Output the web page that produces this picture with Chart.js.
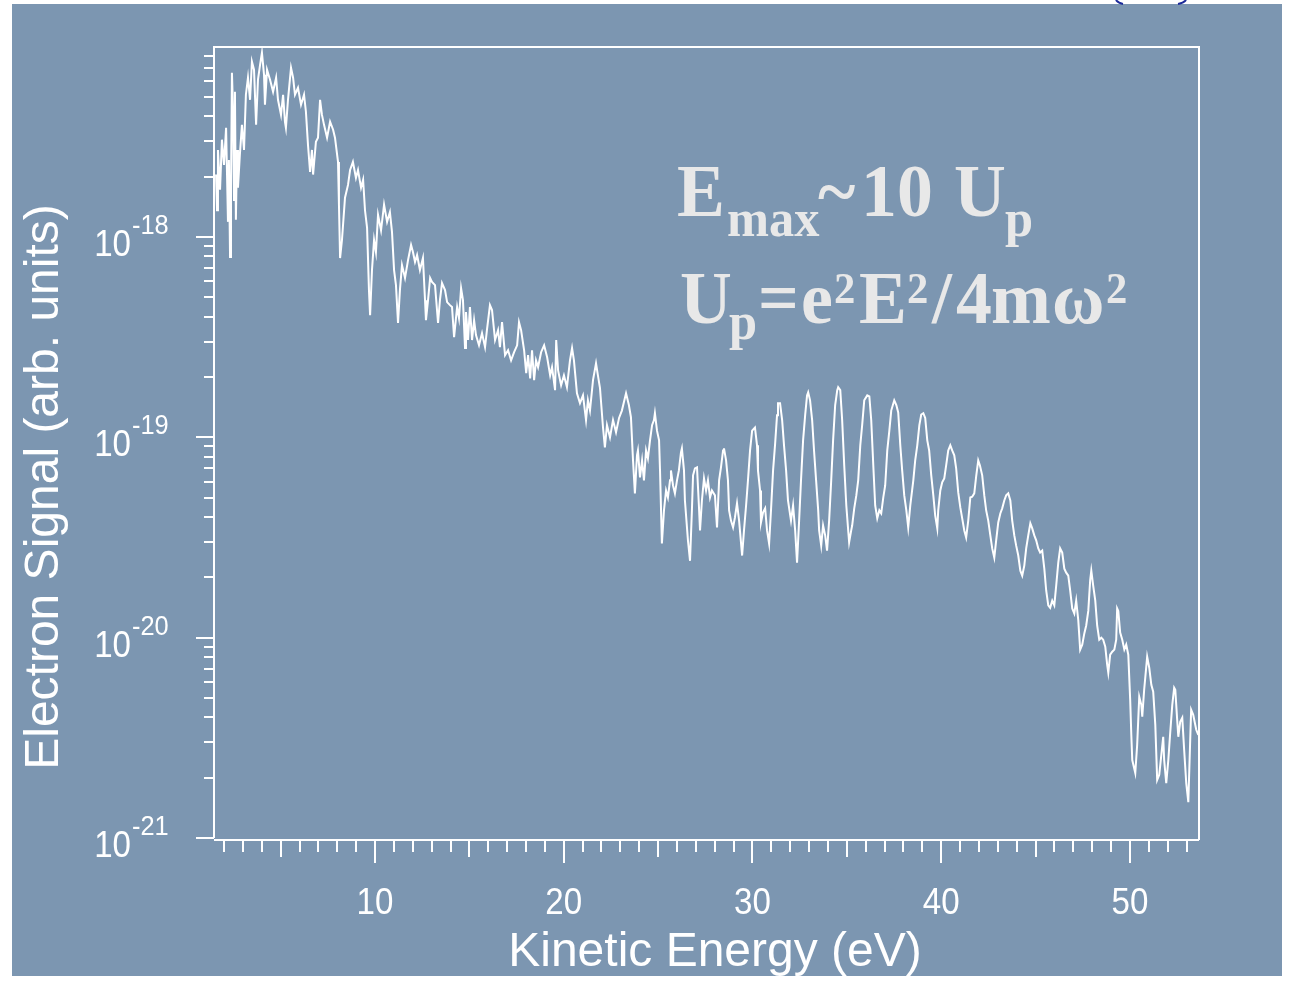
<!DOCTYPE html>
<html>
<head>
<meta charset="utf-8">
<script src="https://cdn.jsdelivr.net/npm/chart.js@4.4.1/dist/chart.umd.min.js"></script>
<style>
  html, body { margin: 0; padding: 0; background: #ffffff; }
  #wrap { width: 1289px; height: 981px; }
</style>
</head>
<body>
<div id="wrap"><canvas id="spectrum" width="1289" height="981"></canvas></div>
<script>
// kinetic energy (eV) and electron signal (arb. units)
const energyLow = [1.58,1.63,1.68,1.79,1.89,2.00,2.11,2.16,2.21,2.26,
  2.32,2.37,2.42,2.48,2.53,2.58,2.63,2.69,2.74,2.84,
  2.95,3.06,3.16,3.27,3.38,3.48,3.59,3.70,3.80,3.91,
  4.01,4.12,4.17,4.28,4.44,4.60,4.76,4.86,5.02,5.13,
  5.23,5.28,5.39,5.55,5.66,5.76,5.92,6.08,6.24,6.34,
  6.45,6.56,6.66,6.72,6.87,6.98,7.09,7.19,7.30,7.46,
  7.62,7.78,7.88,8.04,8.09,8.15,8.25,8.41,8.57,8.68,
  8.83,8.99,9.10,9.26,9.37,9.47,9.58,9.68,9.74,9.84,
  9.95,10.05,10.16,10.32,10.48,10.64,10.79,10.90,11.01,11.11,
  11.22,11.32,11.43,11.59,11.75,11.91,12.01,12.12,12.23,12.38,
  12.54,12.65,12.70,12.81,12.92];
const signalLow = [2.05e-18,1.36e-18,2.72e-18,1.72e-18,3.06e-18,2.29e-18,3.51e-18,2.05e-18,1.19e-18,2.42e-18,
  7.94e-19,1.72e-18,6.6e-18,4.3e-18,1.53e-18,5.31e-18,1.22e-18,2.72e-18,1.76e-18,2.57e-18,
  3.63e-18,2.72e-18,5.13e-18,6.24e-18,4.84e-18,7.5e-18,6.84e-18,3.63e-18,6.1e-18,7.24e-18,
  8.32e-18,6.46e-18,4.57e-18,6.84e-18,6.1e-18,5.31e-18,6.24e-18,4.84e-18,4.07e-18,5.13e-18,
  3.76e-18,3.51e-18,4.84e-18,7.0e-18,6.24e-18,5.13e-18,5.56e-18,4.57e-18,5.13e-18,4.22e-18,
  2.88e-18,2.11e-18,2.72e-18,2.05e-18,2.99e-18,3.13e-18,4.84e-18,4.07e-18,3.63e-18,3.13e-18,
  3.76e-18,3.43e-18,3.13e-18,2.37e-18,1.45e-18,7.85e-19,9.66e-19,1.57e-18,1.82e-18,2.16e-18,
  2.37e-18,1.97e-18,2.16e-18,1.76e-18,1.93e-18,1.36e-18,1.11e-18,5.43e-19,4.07e-19,6.84e-19,
  9.66e-19,8.41e-19,1.29e-18,1.08e-18,1.45e-18,1.19e-18,1.33e-18,1.06e-18,6.84e-19,5.75e-19,
  3.72e-19,5.43e-19,7.24e-19,6.24e-19,7.67e-19,9.12e-19,8.41e-19,7.5e-19,8.13e-19,6.84e-19,
  7.85e-19,4.84e-19,3.84e-19,4.84e-19,6.24e-19];

const energyMid = [13.02,13.18,13.34,13.44,13.55,13.71,13.82,13.97,14.08,14.19,
  14.29,14.35,14.45,14.56,14.66,14.77,14.82,14.93,15.03,15.14,
  15.25,15.35,15.51,15.67,15.83,15.93,16.09,16.20,16.36,16.52,
  16.62,16.73,16.89,17.05,17.21,17.37,17.53,17.63,17.74,17.90,
  18.01,18.11,18.22,18.32,18.43,18.53,18.64,18.80,18.96,19.12,
  19.28,19.38,19.54,19.60,19.70,19.86,20.01,20.17,20.33,20.44,
  20.54,20.70,20.86,21.02,21.18,21.28,21.39,21.55,21.71,21.81,
  21.92,22.08,22.18,22.29,22.45,22.61,22.77,22.93,23.08,23.30,
  23.45,23.56,23.67,23.77,23.88];
const signalMid = [5.96e-19,5.75e-19,3.72e-19,4.84e-19,5.89e-19,5.43e-19,4.73e-19,4.57e-19,4.47e-19,3.16e-19,
  3.94e-19,4.47e-19,3.94e-19,5.56e-19,4.84e-19,2.79e-19,4.22e-19,3.06e-19,4.47e-19,3.06e-19,
  3.84e-19,3.24e-19,2.88e-19,3.31e-19,2.82e-19,3.43e-19,4.57e-19,4.32e-19,3.06e-19,3.43e-19,
  2.82e-19,3.76e-19,2.57e-19,2.72e-19,2.42e-19,2.66e-19,2.88e-19,3.76e-19,3.43e-19,2.72e-19,
  2.09e-19,2.57e-19,1.97e-19,2.72e-19,1.93e-19,2.42e-19,2.24e-19,2.66e-19,2.88e-19,2.51e-19,
  2.04e-19,2.24e-19,1.72e-19,3.06e-19,2.16e-19,1.82e-19,2.04e-19,1.78e-19,2.42e-19,2.79e-19,
  2.42e-19,1.66e-19,1.48e-19,1.62e-19,1.22e-19,1.53e-19,1.36e-19,1.93e-19,2.34e-19,2.04e-19,
  1.76e-19,1.12e-19,8.91e-20,1.15e-19,1.0e-19,1.22e-19,1.06e-19,1.25e-19,1.36e-19,1.66e-19,
  1.45e-19,1.26e-19,7.67e-20,5.25e-20,8.13e-20];

const energyPlateau = [23.93,24.04,24.15,24.25,24.36,24.46,24.57,24.68,24.78,24.83,
  24.94,25.05,25.10,25.20,25.31,25.42,25.52,25.63,25.68,25.79,
  25.89,26.00,26.10,26.21,26.26,26.37,26.42,26.58,26.69,26.79,
  26.85,26.95,27.06,27.16,27.22,27.32,27.43,27.54,27.64,27.75,
  27.85,28.01,28.12,28.23,28.33,28.44,28.49,28.60,28.70,28.76,
  28.86,28.97,29.07,29.18,29.29,29.45,29.55,29.66,29.76,29.87,
  29.98,30.13,30.24,30.29,30.40,30.45,30.56,30.67,30.77,30.88,
  30.98,31.09,31.20,31.30,31.35,31.46,31.57,31.67,31.78,31.88,
  32.04,32.15,32.26,32.36,32.47,32.57,32.68,32.79,32.89,32.95,
  33.05,33.16,33.26,33.37,33.48,33.53,33.64,33.74,33.85,33.95,
  34.06,34.17,34.27,34.38,34.49,34.54,34.65,34.75,34.86,34.97,
  35.07,35.12];
const signalPlateau = [8.6e-20,6.31e-20,7.67e-20,6.1e-20,8.6e-20,7.85e-20,9.66e-20,1.15e-19,1.22e-19,1.32e-19,
  1.08e-19,9.66e-20,6.84e-20,2.95e-20,4.32e-20,5.43e-20,5.01e-20,6.1e-20,6.84e-20,5.75e-20,
  5.25e-20,6.1e-20,6.84e-20,8.41e-20,8.81e-20,6.84e-20,4.84e-20,3.06e-20,2.42e-20,4.32e-20,
  6.46e-20,7.0e-20,7.08e-20,4.57e-20,3.43e-20,4.84e-20,6.24e-20,5.43e-20,6.1e-20,5.01e-20,
  5.43e-20,5.13e-20,3.55e-20,6.1e-20,7.08e-20,8.6e-20,8.81e-20,7.67e-20,6.1e-20,4.32e-20,
  3.84e-20,3.55e-20,3.98e-20,4.68e-20,3.84e-20,2.57e-20,3.43e-20,4.57e-20,6.1e-20,8.6e-20,
  1.08e-19,1.12e-19,9.12e-20,6.84e-20,5.43e-20,3.76e-20,4.22e-20,4.42e-20,3.43e-20,2.95e-20,
  4.32e-20,6.84e-20,9.33e-20,1.29e-19,1.48e-19,1.48e-19,1.22e-19,9.12e-20,6.84e-20,4.84e-20,
  3.84e-20,4.57e-20,3.43e-20,2.37e-20,3.84e-20,6.1e-20,9.66e-20,1.29e-19,1.62e-19,1.68e-19,
  1.53e-19,1.22e-19,8.6e-20,6.1e-20,4.32e-20,3.43e-20,2.88e-20,3.63e-20,3.24e-20,2.72e-20,
  3.84e-20,6.1e-20,9.66e-20,1.45e-19,1.72e-19,1.78e-19,1.72e-19,1.22e-19,7.24e-20,4.57e-20,
  3.43e-20,2.99e-20];

const energyHigh = [35.23,35.28,35.39,35.50,35.60,35.71,35.81,35.92,36.08,36.19,
  36.29,36.40,36.50,36.61,36.72,36.82,36.93,37.03,37.14,37.25,
  37.35,37.51,37.62,37.72,37.83,37.93,38.04,38.15,38.25,38.36,
  38.52,38.62,38.73,38.84,38.94,39.05,39.15,39.26,39.36,39.47,
  39.58,39.68,39.79,39.84,39.95,40.05,40.16,40.26,40.37,40.48,
  40.58,40.69,40.79,40.90,41.01,41.11,41.22,41.32,41.43,41.54,
  41.64,41.75,41.85,41.96,42.05,42.17,42.28,42.38,42.49,42.60,
  42.70,42.81,42.91,43.02,43.13,43.23,43.34,43.44,43.55,43.66,
  43.76,43.87,43.97,44.08,44.19,44.29,44.40,44.50,44.61,44.72,
  44.82,44.93,45.03,45.14,45.24,45.35,45.46,45.56,45.67,45.77,
  45.88,45.99,46.09,46.20,46.30,46.41,46.52,46.62,46.73,46.83,
  46.94,47.05,47.15,47.26,47.36,47.47,47.58,47.68,47.79,47.89,
  47.95,48.05,48.16,48.26,48.37,48.48,48.58,48.69,48.79,48.85,
  48.95,49.06,49.17,49.27,49.32,49.38,49.48,49.59,49.70,49.80,
  49.91,50.01,50.07,50.12,50.28,50.38,50.49,50.60,50.65,50.75,
  50.91,51.02,51.13,51.23,51.34,51.44,51.55,51.66,51.76,51.81,
  51.92,52.03,52.13,52.24,52.34,52.40,52.50,52.56,52.66,52.77,
  52.87,52.98,53.09,53.19,53.24,53.35,53.51,53.62];
const signalHigh = [3.43e-20,3.63e-20,4.42e-20,5.13e-20,6.1e-20,9.12e-20,1.15e-19,1.53e-19,1.62e-19,1.6e-19,
  1.22e-19,7.24e-20,4.57e-20,3.94e-20,4.32e-20,4.17e-20,5.01e-20,5.75e-20,8.6e-20,1.08e-19,
  1.36e-19,1.53e-19,1.45e-19,1.33e-19,9.12e-20,6.84e-20,5.13e-20,4.32e-20,3.55e-20,4.57e-20,
  6.1e-20,7.67e-20,9.12e-20,1.15e-19,1.3e-19,1.32e-19,1.25e-19,9.66e-20,8.6e-20,6.46e-20,
  5.13e-20,4.07e-20,3.51e-20,4.32e-20,5.43e-20,5.96e-20,6.24e-20,7.24e-20,8.6e-20,9.12e-20,
  8.6e-20,8.13e-20,7.0e-20,5.31e-20,4.47e-20,3.94e-20,3.43e-20,3.16e-20,3.84e-20,5.01e-20,
  5.05e-20,5.25e-20,6.38e-20,7.67e-20,7.24e-20,6.46e-20,5.13e-20,4.32e-20,3.84e-20,3.24e-20,
  2.79e-20,2.51e-20,3.06e-20,3.76e-20,4.17e-20,4.42e-20,4.84e-20,5.13e-20,5.25e-20,4.84e-20,
  3.84e-20,3.24e-20,2.88e-20,2.57e-20,2.16e-20,2.04e-20,2.29e-20,2.79e-20,3.24e-20,3.72e-20,
  3.51e-20,3.24e-20,3.06e-20,2.79e-20,2.66e-20,2.72e-20,2.21e-20,1.72e-20,1.45e-20,1.41e-20,
  1.53e-20,1.45e-20,1.82e-20,2.37e-20,2.79e-20,2.66e-20,2.21e-20,2.11e-20,2.04e-20,1.72e-20,
  1.4e-20,1.32e-20,1.53e-20,1.22e-20,8.72e-21,9.23e-21,1.05e-20,1.15e-20,1.36e-20,1.93e-20,
  2.16e-20,1.82e-20,1.53e-20,1.15e-20,9.77e-21,1.0e-20,9.77e-21,9.02e-21,7.33e-21,6.68e-21,
  8.22e-21,8.51e-21,8.72e-21,9.77e-21,1.4e-20,1.36e-20,1.06e-20,9.77e-21,8.72e-21,9.23e-21,
  8.22e-21,4.9e-21,3.27e-21,2.45e-21,2.11e-21,2.92e-21,5.07e-21,4.62e-21,4.03e-21,5.49e-21,
  8.03e-21,7.08e-21,5.82e-21,5.37e-21,3.68e-21,1.95e-21,2.07e-21,2.6e-21,3.2e-21,2.45e-21,
  1.88e-21,2.45e-21,3.35e-21,4.62e-21,5.62e-21,5.49e-21,3.89e-21,3.2e-21,3.8e-21,3.98e-21,
  2.75e-21,1.88e-21,1.51e-21,3.09e-21,4.37e-21,4.12e-21,3.47e-21,3.27e-21];

const xTickLabels = ["10", "20", "30", "40", "50"];
const yTickExponents = ["-21", "-20", "-19", "-18"];

const energy = energyLow.concat(energyMid, energyPlateau, energyHigh);
const signal = signalLow.concat(signalMid, signalPlateau, signalHigh);

const BLUE = "#7c96b1";
const SANS = "'Liberation Sans', Arial, sans-serif";
const SERIF = "'Liberation Serif', 'Times New Roman', serif";

function putText(ctx, text, x, y, font, align, sx) {
  ctx.save();
  ctx.font = font;
  ctx.textAlign = align || "left";
  ctx.textBaseline = "alphabetic";
  ctx.translate(x, y);
  ctx.scale(sx || 1, 1);
  ctx.fillText(text, 0, 0);
  ctx.restore();
}

const frame = {
  id: "frame",
  beforeDraw(chart) {
    const ctx = chart.ctx;
    ctx.save();
    ctx.fillStyle = "#ffffff";
    ctx.fillRect(0, 0, chart.width, chart.height);
    ctx.fillStyle = BLUE;
    ctx.fillRect(12, 4, 1270, 972);
    // bits of a cut-off bracket above the panel
    ctx.strokeStyle = "#1c2a9a";
    ctx.lineWidth = 2;
    ctx.beginPath();
    ctx.moveTo(1116, 0);
    ctx.quadraticCurveTo(1118, 3, 1123, 4);
    ctx.moveTo(1186, 0);
    ctx.quadraticCurveTo(1184, 3, 1178, 4);
    ctx.stroke();
    ctx.restore();
  },
  afterDraw(chart) {
    const ctx = chart.ctx;
    const a = chart.chartArea;
    const xs = chart.scales.x;
    const ys = chart.scales.y;
    const base = a.bottom + 2;

    ctx.save();
    ctx.strokeStyle = "#ffffff";
    ctx.fillStyle = "#ffffff";
    ctx.lineWidth = 2;

    // box and axis line
    ctx.beginPath();
    ctx.moveTo(a.left, a.bottom);
    ctx.lineTo(a.left, a.top);
    ctx.lineTo(a.right, a.top);
    ctx.lineTo(a.right, base);
    ctx.moveTo(a.left, base);
    ctx.lineTo(a.right, base);
    ctx.stroke();

    // x ticks, one per eV
    ctx.beginPath();
    for (let e = 2; e <= 53; e++) {
      const px = Math.round(xs.getPixelForValue(e));
      const len = e % 10 === 0 ? 23 : (e % 5 === 0 ? 17 : 12);
      ctx.moveTo(px, base);
      ctx.lineTo(px, base + len);
    }
    // y ticks, decades and 2..9
    for (let d = -21; d <= -18; d++) {
      for (let m = 1; m <= 9; m++) {
        const v = m * Math.pow(10, d);
        if (v < ys.min * 0.999 || v > ys.max) continue;
        const py = Math.round(ys.getPixelForValue(v));
        const len = m === 1 ? 18 : 10;
        ctx.moveTo(a.left - len, py);
        ctx.lineTo(a.left, py);
      }
    }
    ctx.stroke();

    // x tick labels
    xTickLabels.forEach(function (t) {
      const px = xs.getPixelForValue(Number(t));
      putText(ctx, t, px, 914, "36px " + SANS, "center", 0.92);
    });
    // y tick labels 10^n
    yTickExponents.forEach(function (t) {
      const py = ys.getPixelForValue(Math.pow(10, Number(t)));
      putText(ctx, "10", 131, py + 19, "36px " + SANS, "right", 0.92);
      putText(ctx, t, 132, py - 3, "27px " + SANS, "left", 0.94);
    });

    // axis titles
    putText(ctx, "Kinetic Energy (eV)", 715, 966, "48px " + SANS, "center", 1);
    ctx.save();
    ctx.translate(58, 487);
    ctx.rotate(-Math.PI / 2);
    ctx.font = "48px " + SANS;
    ctx.textAlign = "center";
    ctx.fillText("Electron Signal (arb. units)", 0, 0);
    ctx.restore();

    // annotation
    ctx.fillStyle = "#e8e8e8";
    const big = "bold 74px " + SERIF;
    const sub = "bold 52px " + SERIF;
    const sup = "bold 44px " + SERIF;
    const k = 0.97;
    putText(ctx, "E", 677, 216, big, "left", k);
    putText(ctx, "max", 727, 236, sub, "left", k);
    putText(ctx, "~", 818, 216, big, "left", k);
    putText(ctx, "10", 861, 216, big, "left", k);
    putText(ctx, "U", 954, 216, big, "left", k);
    putText(ctx, "p", 1005, 236, sub, "left", k);

    putText(ctx, "U", 680, 323, big, "left", k);
    putText(ctx, "p", 729, 339, sub, "left", k);
    putText(ctx, "=", 758, 323, big, "left", k);
    putText(ctx, "e", 801, 323, big, "left", k);
    putText(ctx, "2", 834, 303, sup, "left", k);
    putText(ctx, "E", 859, 323, big, "left", k);
    putText(ctx, "2", 907, 303, sup, "left", k);
    putText(ctx, "/", 932, 323, big, "left", k);
    putText(ctx, "4", 956, 323, big, "left", k);
    putText(ctx, "m", 991, 323, big, "left", k);
    putText(ctx, "\u03c9", 1052, 323, big, "left", k);
    putText(ctx, "2", 1106, 303, sup, "left", k);

    ctx.restore();
  }
};

new Chart(document.getElementById("spectrum"), {
  type: "line",
  data: {
    datasets: [{
      label: "Electron Signal",
      data: energy.map(function (e, i) { return { x: e, y: signal[i] }; }),
      borderColor: "#ffffff",
      borderWidth: 2,
      pointRadius: 0,
      tension: 0,
      fill: false
    }]
  },
  options: {
    responsive: false,
    animation: false,
    devicePixelRatio: 1,
    layout: { padding: { left: 214, top: 47, right: 90, bottom: 143 } },
    plugins: { legend: { display: false }, tooltip: { enabled: false } },
    scales: {
      x: { type: "linear", min: 1.47, max: 53.656, display: false },
      y: { type: "logarithmic", min: 1e-21, max: 8.88e-18, display: false }
    }
  },
  plugins: [frame]
});
</script>
</body>
</html>
